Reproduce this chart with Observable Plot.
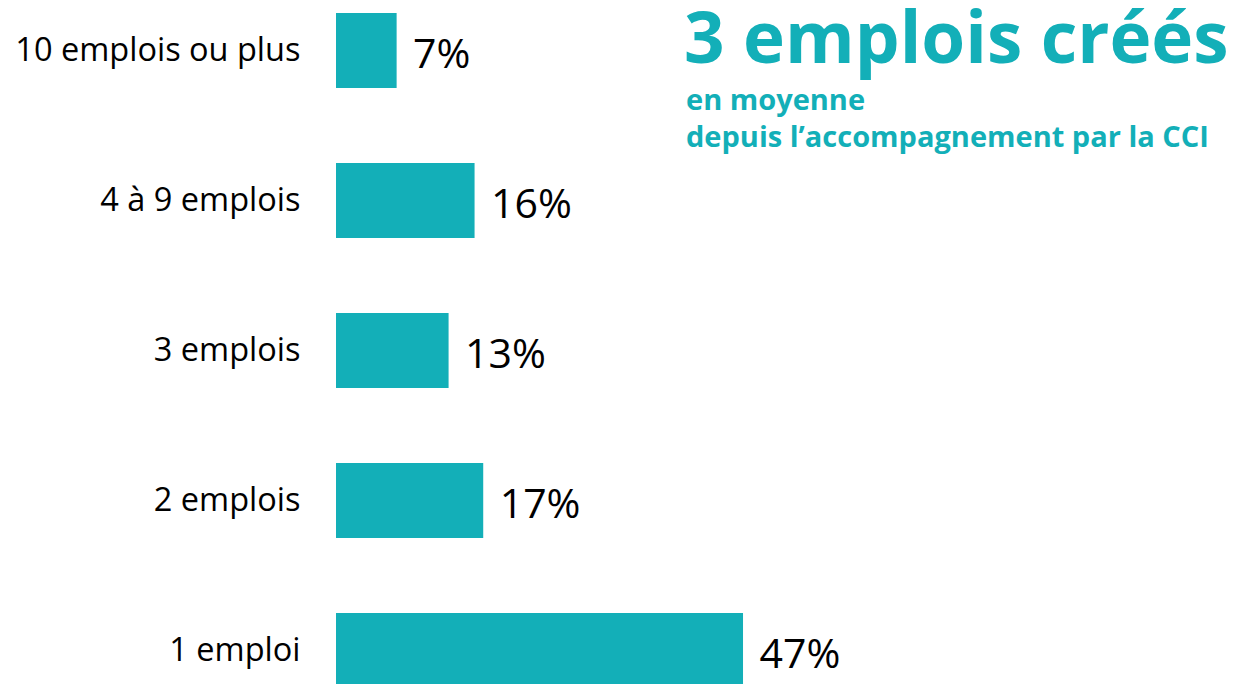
<!DOCTYPE html>
<html>
<head>
<meta charset="utf-8">
<script src="https://cdn.jsdelivr.net/npm/d3@7"></script>
<script src="https://cdn.jsdelivr.net/npm/@observablehq/plot@0.6"></script>
<style>
  html, body { margin: 0; padding: 0; background: #fff; }
  #wrap { position: relative; width: 1235px; height: 684px; overflow: hidden; font-family: "Open Sans", "Noto Sans", sans-serif; }
  #title { position: absolute; left: 684px; top: 0px; color: #13AFB8; font-weight: 700; font-size: 71px; line-height: 1; white-space: nowrap; }
  #sub { position: absolute; left: 686px; top: 80px; color: #13AFB8; font-weight: 700; font-size: 29px; line-height: 37px; white-space: nowrap; }
</style>
</head>
<body>
<div id="wrap">
  <div id="chart"></div>
  <div id="title"></div>
  <div id="sub"></div>
</div>
<script>
const categories = ["10 emplois ou plus", "4 à 9 emplois", "3 emplois", "2 emplois", "1 emploi"];
const values = [7, 16, 13, 17, 47];
const titleText = "3 emplois créés";
const subtitleLines = ["en moyenne", "depuis l’accompagnement par la CCI"];

const data = categories.map((c, i) => ({category: c, value: values[i]}));
const color = "#13AFB8";

const chart = Plot.plot({
  width: 1235,
  height: 684,
  marginLeft: 336,
  marginRight: 33,
  marginTop: 11,
  marginBottom: 0,
  style: {fontFamily: "'Open Sans', 'Noto Sans', sans-serif", background: "transparent"},
  x: {domain: [0, 100], axis: null},
  y: {domain: categories, range: [11, 689], paddingInner: 0.5, paddingOuter: 0, label: null},
  marks: [
    Plot.barX(data, {x: "value", y: "category", fill: color}),
    Plot.text(data, {x: "value", y: "category", text: d => d.value + "%", textAnchor: "start", dx: 16, dy: 4, fontSize: 41, fill: "#000"}),
    Plot.axisY({tickSize: 0, tickPadding: 36, fontSize: 32.5, color: "#000", label: null})
  ]
});
document.getElementById("chart").appendChild(chart);
document.getElementById("title").textContent = titleText;
document.getElementById("sub").innerHTML = subtitleLines.map(s => `<div>${s}</div>`).join("");
</script>
</body>
</html>
